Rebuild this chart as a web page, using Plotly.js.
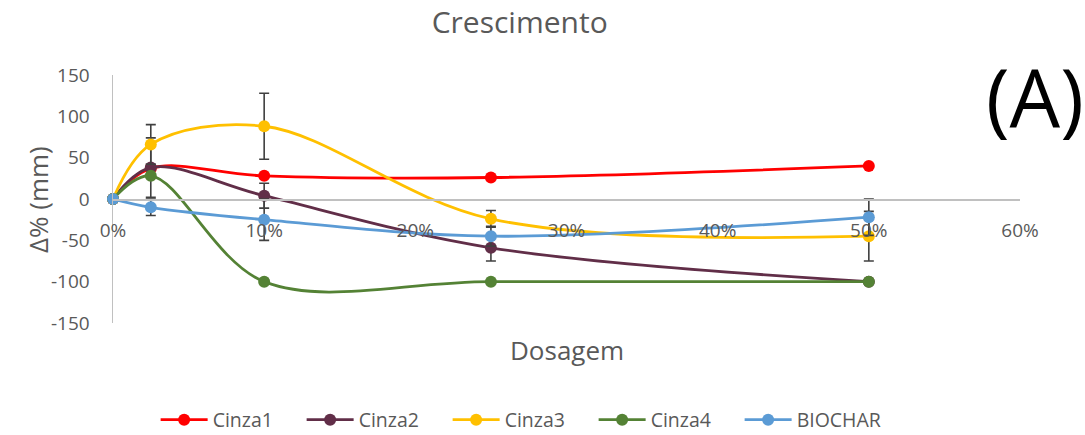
<!DOCTYPE html>
<html>
<head>
<meta charset="utf-8">
<script src="https://cdn.plot.ly/plotly-3.0.1.min.js"></script>
<style>html,body{margin:0;padding:0;background:#fff;}#chart{width:1085px;height:435px;}</style>
</head>
<body>
<div id="chart"></div>
<script>
// Data
const dosagem = [0, 0.025, 0.10, 0.25, 0.50];
const seriesNames = ["Cinza1", "Cinza2", "Cinza3", "Cinza4", "BIOCHAR"];
const cinza1 = [0, 37, 28, 26, 40];
const cinza2 = [0, 38, 4, -59, -100];
const cinza3 = [0, 66, 88, -24, -45];
const cinza4 = [0, 28, -100, -100, -100];
const biochar = [0, -10, -25, -45, -22];
const err1 = [0, 0, 0, 0, 0];
const err2 = [0, 36, 15, 16, 0];
const err3 = [0, 24, 40, 10, 30];
const err4 = [0, 0, 0, 0, 0];
const errB = [0, 10, 25, 12, 22];
const xTickVals = [0, 0.1, 0.2, 0.3, 0.4, 0.5, 0.6];
const yTickVals = [-150, -100, -50, 0, 50, 100, 150];
const yTickText = ["-150", "-100", "-50", "0", "50", "100", "150"];

const colors = ["#FF0000", "#612E48", "#FFC000", "#548235", "#5B9BD5"];
const values = [cinza1, cinza2, cinza3, cinza4, biochar];
const errs = [err1, err2, err3, err4, errB];

const FONT = "Open Sans, sans-serif";
const GRAY = "#595959";

const traces = seriesNames.map((name, i) => ({
  type: "scatter",
  mode: "lines+markers",
  name: name,
  x: dosagem,
  y: values[i],
  xaxis: "x2",
  yaxis: "y",
  line: {color: colors[i], width: 2.8, shape: "spline", smoothing: 1},
  marker: {color: colors[i], size: 12, symbol: "circle"},
  error_y: {type: "data", array: errs[i], visible: true, color: "#404040", thickness: 1.6, width: 5},
  cliponaxis: false
}));

const layout = {
  width: 1085,
  height: 435,
  paper_bgcolor: "#ffffff",
  plot_bgcolor: "rgba(0,0,0,0)",
  margin: {l: 113, r: 65, t: 75, b: 112, autoexpand: false},
  font: {family: FONT, color: GRAY},
  showlegend: true,
  title: {
    text: "Crescimento",
    font: {family: FONT, size: 30, color: GRAY},
    xref: "container", x: 0.479, xanchor: "center",
    yref: "container", y: 0.949, yanchor: "middle"
  },
  xaxis: {
    range: [0, 0.6],
    showline: false,
    showgrid: false,
    zeroline: false,
    showticklabels: false,
    ticks: ""
  },
  xaxis2: {
    overlaying: "x",
    anchor: "free",
    position: 0.5,
    side: "bottom",
    range: [0, 0.6],
    tickvals: xTickVals,
    tickformat: ".0%",
    showline: true,
    linecolor: "#C0C0C0",
    linewidth: 1.5,
    showgrid: false,
    zeroline: false,
    ticks: "",
    ticklabelstandoff: 14,
    tickfont: {family: FONT, size: 19, color: GRAY}
  },
  yaxis: {
    range: [-150, 150],
    tickvals: yTickVals,
    ticktext: yTickText,
    showline: true,
    linecolor: "#C0C0C0",
    linewidth: 1.5,
    showgrid: false,
    zeroline: false,
    ticks: "",
    ticklabelstandoff: 18,
    tickfont: {family: FONT, size: 19, color: GRAY}
  },
  legend: {
    orientation: "h",
    x: 0.047, xanchor: "left",
    y: -0.391, yanchor: "middle",
    font: {family: FONT, size: 19.5, color: GRAY},
    itemwidth: 47,
    entrywidth: 84,
    entrywidthmode: "pixels",
    bgcolor: "rgba(0,0,0,0)"
  },
  annotations: [{
    text: "(A)",
    xref: "paper", yref: "paper",
    x: 1.0165, y: 0.919,
    xanchor: "center", yanchor: "middle",
    showarrow: false,
    font: {family: FONT, size: 80, color: "#000000"}
  }, {
    text: "Δ% (mm)",
    xref: "paper", yref: "paper",
    x: -0.0827, y: 0.5,
    xanchor: "center", yanchor: "middle",
    textangle: -90,
    showarrow: false,
    font: {family: FONT, size: 26, color: GRAY}
  }, {
    text: "Dosagem",
    xref: "paper", yref: "paper",
    x: 0.5, y: -0.109,
    xanchor: "center", yanchor: "middle",
    showarrow: false,
    font: {family: FONT, size: 26, color: GRAY}
  }]
};

Plotly.newPlot("chart", traces, layout, {displayModeBar: false, staticPlot: true});
</script>
</body>
</html>
